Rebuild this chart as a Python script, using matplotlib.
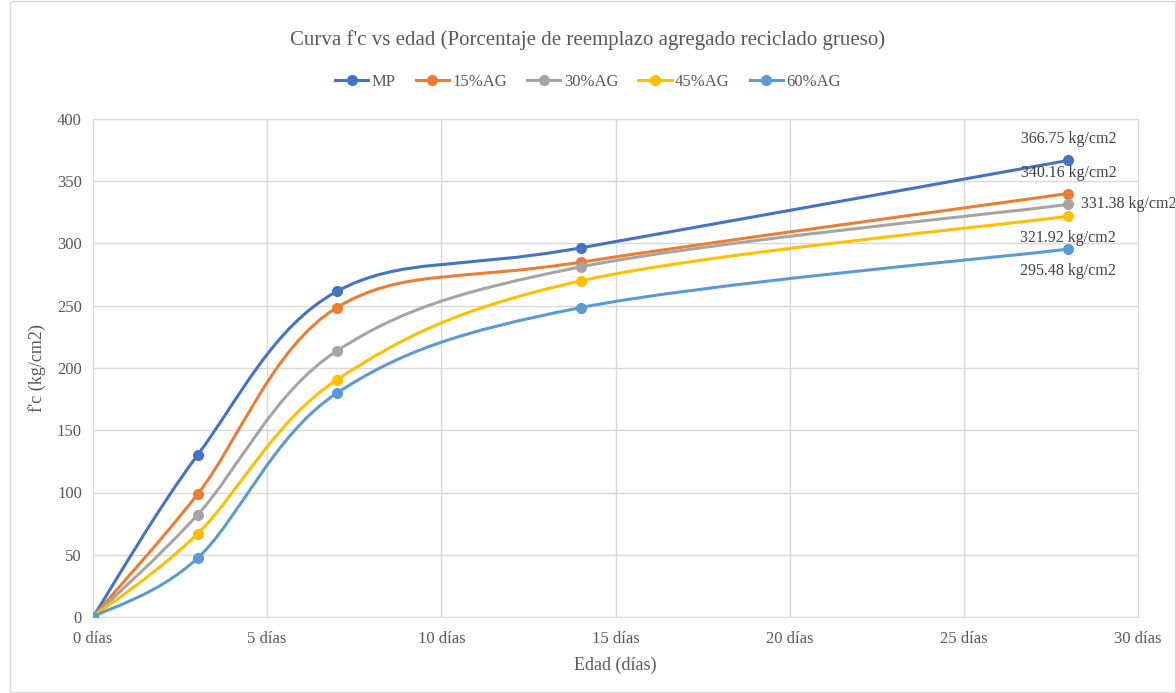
import numpy as np
import matplotlib.pyplot as plt
from matplotlib.path import Path
from matplotlib.patches import PathPatch, Rectangle
from matplotlib.lines import Line2D

plt.rcParams['font.family'] = ['Liberation Serif', 'DejaVu Serif']

# data
edad = [0, 3, 7, 14, 28]
series_names = ["MP", "15%AG", "30%AG", "45%AG", "60%AG"]
mp = [0, 130.0, 261.5, 296.5, 366.75]
ag15 = [0, 98.5, 248.5, 285.0, 340.16]
ag30 = [0, 82.0, 213.7, 281.2, 331.38]
ag45 = [0, 66.8, 190.5, 270.0, 321.92]
ag60 = [0, 47.2, 179.8, 248.5, 295.48]
colores = ["#4472C4", "#ED7D31", "#A5A5A5", "#FFC000", "#5B9BD5"]

valores = [mp, ag15, ag30, ag45, ag60]


def smooth_path(x, y):
    # excel-like smoothed line: cubic bezier, catmull-rom control points
    pts = np.column_stack([x, y]).astype(float)
    n = len(pts)
    verts = [pts[0]]
    codes = [Path.MOVETO]
    for i in range(n - 1):
        p0 = pts[i - 1] if i > 0 else pts[i]
        p1 = pts[i]
        p2 = pts[i + 1]
        p3 = pts[i + 2] if i + 2 < n else pts[i + 1]
        c1 = p1 + (p2 - p0) / 6.0
        c2 = p2 - (p3 - p1) / 6.0
        verts += [c1, c2, p2]
        codes += [Path.CURVE4] * 3
    return Path(verts, codes)


fig = plt.figure(figsize=(11.76, 6.93), dpi=100)
ax = fig.add_axes([93 / 1176, 1 - 617 / 693, (1138 - 93) / 1176, (617 - 119) / 693])

for nombre, y, c in zip(series_names, valores, colores):
    ax.add_patch(PathPatch(smooth_path(edad, y), facecolor='none', edgecolor=c, lw=2.2,
                           capstyle='round', zorder=3))
    ax.plot(edad, y, 'o', color=c, ms=7, zorder=4)

# etiquetas del ultimo punto
gris = "#404040"
offsets = [(0, 10, 'center', 'bottom'), (0, 9, 'center', 'bottom'),
           (9, 0, 'left', 'center'), (0, -10, 'center', 'top'), (0, -10, 'center', 'top')]
for y, (dx, dy, ha, va) in zip(valores, offsets):
    ax.annotate(f"{y[-1]:.2f} kg/cm2", (edad[-1], y[-1]), xytext=(dx, dy),
                textcoords='offset points', ha=ha, va=va, fontsize=11.5, color=gris)

ax.set_xlim(0, 30)
ax.set_ylim(0, 400)
ax.set_xticks(range(0, 31, 5))
ax.set_xticklabels([f"{v} días" for v in range(0, 31, 5)])
ax.set_yticks(range(0, 401, 50))
ax.grid(True, color="#D9D9D9", lw=1)
ax.set_axisbelow(True)
for s in ax.spines.values():
    s.set_color("#D9D9D9")
ax.tick_params(length=0, labelsize=12, colors="#595959", pad=8)
ax.tick_params(axis='x', pad=10)
ax.set_xlabel("Edad (días)", fontsize=13, color="#595959", labelpad=7)
ax.set_ylabel("f'c (kg/cm2)", fontsize=13, color="#595959", labelpad=8)

fig.text(0.5, 1 - 40 / 693, "Curva f'c vs edad (Porcentaje de reemplazo agregado reciclado grueso)",
         ha='center', va='center', fontsize=15, color="#595959")

handles = [Line2D([0], [0], color=c, lw=2.2, marker='o', ms=7) for c in colores]
fig.legend(handles, series_names, loc='center', bbox_to_anchor=(0.5, 1 - 82 / 693), ncol=5,
           frameon=False, fontsize=12, handlelength=2.0, columnspacing=1.2, handletextpad=0.2,
           labelcolor="#595959")

fig.patches.append(Rectangle((10 / 1176, 0.002), 1 - 11 / 1176, 0.996, transform=fig.transFigure,
                             fill=False, edgecolor="#D9D9D9", lw=1))

fig.savefig("out.png", dpi=100)
